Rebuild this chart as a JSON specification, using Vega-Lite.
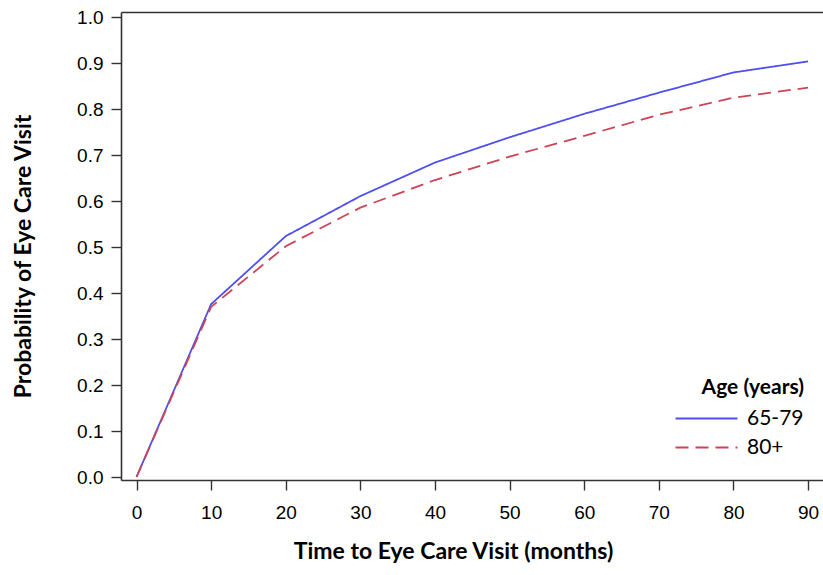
{
  "$schema": "https://vega.github.io/schema/vega-lite/v6.json",
  "autosize": "none",
  "width": 702,
  "height": 468,
  "padding": {"left": 121, "top": 12, "right": 0, "bottom": 95},
  "background": "white",
  "config": {"view": {"stroke": null}},
  "data": {"values": [
    {"t": 0, "p": 0, "age": "65-79"},
    {"t": 10, "p": 0.376, "age": "65-79"},
    {"t": 20, "p": 0.524, "age": "65-79"},
    {"t": 30, "p": 0.611, "age": "65-79"},
    {"t": 40, "p": 0.684, "age": "65-79"},
    {"t": 50, "p": 0.739, "age": "65-79"},
    {"t": 60, "p": 0.790, "age": "65-79"},
    {"t": 70, "p": 0.836, "age": "65-79"},
    {"t": 80, "p": 0.880, "age": "65-79"},
    {"t": 90, "p": 0.904, "age": "65-79"},
    {"t": 0, "p": 0, "age": "80+"},
    {"t": 10, "p": 0.370, "age": "80+"},
    {"t": 20, "p": 0.502, "age": "80+"},
    {"t": 30, "p": 0.586, "age": "80+"},
    {"t": 40, "p": 0.646, "age": "80+"},
    {"t": 50, "p": 0.697, "age": "80+"},
    {"t": 60, "p": 0.742, "age": "80+"},
    {"t": 70, "p": 0.788, "age": "80+"},
    {"t": 80, "p": 0.825, "age": "80+"},
    {"t": 90, "p": 0.847, "age": "80+"}
  ]},
  "resolve": {"axis": {"x": "independent"}},
  "layer": [
    {
      "mark": {"type": "line", "strokeWidth": 1.8},
      "encoding": {
        "x": {"field": "t", "type": "quantitative",
          "scale": {"domain": [-2.08, 92.0], "nice": false, "zero": false},
          "axis": {"values": [0,10,20,30,40,50,60,70,80,90], "title": "Time to Eye Care Visit (months)",
            "grid": false, "domainColor": "#333", "domainWidth": 1.6, "tickColor": "#333", "tickWidth": 1.4, "tickSize": 10,
            "labelFont": "Liberation Sans", "labelFontSize": 19, "labelColor": "#000", "labelPadding": 13,
            "titleFont": "Lato", "titleFontSize": 23, "titleFontWeight": "bold", "titleColor": "#000",
            "titleX": 332, "titleY": 78, "titleBaseline": "alphabetic", "titleAnchor": null}},
        "y": {"field": "p", "type": "quantitative",
          "scale": {"domain": [-0.0065, 1.0115], "nice": false, "zero": false},
          "axis": {"values": [0,0.05,0.1,0.15,0.2,0.25,0.3,0.35,0.4,0.45,0.5,0.55,0.6,0.65,0.7,0.75,0.8,0.85,0.9,0.95,1.0],
            "labelExpr": "round(datum.value*100) % 10 === 0 ? format(datum.value, '.1f') : ''",
            "tickSize": {"condition": {"test": "round(datum.value*100) % 10 === 0", "value": 10}, "value": 5},
            "title": "Probability of Eye Care Visit",
            "grid": false, "domainColor": "#333", "domainWidth": 1.6, "tickColor": "#333", "tickWidth": 1.4,
            "labelFont": "Liberation Sans", "labelFontSize": 19, "labelColor": "#000", "labelPadding": 8,
            "titleFont": "Lato", "titleFontSize": 23, "titleFontWeight": "bold", "titleColor": "#000",
            "titleX": -86, "titleY": 244, "titleAnchor": null}},
        "color": {"field": "age", "type": "nominal",
          "scale": {"domain": ["65-79", "80+"], "range": ["#4f4ff0", "#cc4455"]},
          "legend": {"title": "Age (years)", "orient": "none", "legendX": 569, "legendY": 365,
            "symbolType": "M-2,0H2", "symbolSize": 961, "symbolStrokeWidth": 2, "padding": 0, "rowPadding": 2,
            "labelFont": "Lato", "labelFontSize": 21, "labelColor": "#000", "labelOffset": 24,
            "titleFont": "Lato", "titleFontSize": 21, "titleFontWeight": "bold", "titleColor": "#000",
            "titleAnchor": "end", "titlePadding": 4}},
        "strokeDash": {"field": "age", "type": "nominal",
          "scale": {"domain": ["65-79", "80+"], "range": [[1, 0], [13, 7]]},
          "legend": {"title": "Age (years)", "orient": "none", "legendX": 569, "legendY": 365,
            "symbolType": "M-2,0H2", "symbolSize": 961, "symbolStrokeWidth": 2, "padding": 0, "rowPadding": 2,
            "labelFont": "Lato", "labelFontSize": 21, "labelColor": "#000", "labelOffset": 24,
            "titleFont": "Lato", "titleFontSize": 21, "titleFontWeight": "bold", "titleColor": "#000",
            "titleAnchor": "end", "titlePadding": 4}}
      }
    },
    {
      "mark": {"type": "line", "opacity": 0},
      "encoding": {
        "x": {"field": "t", "type": "quantitative",
          "axis": {"orient": "top", "ticks": false, "labels": false, "title": null, "grid": false,
            "domainColor": "#333", "domainWidth": 1.6}},
        "y": {"field": "p", "type": "quantitative"}
      }
    }
  ]
}
